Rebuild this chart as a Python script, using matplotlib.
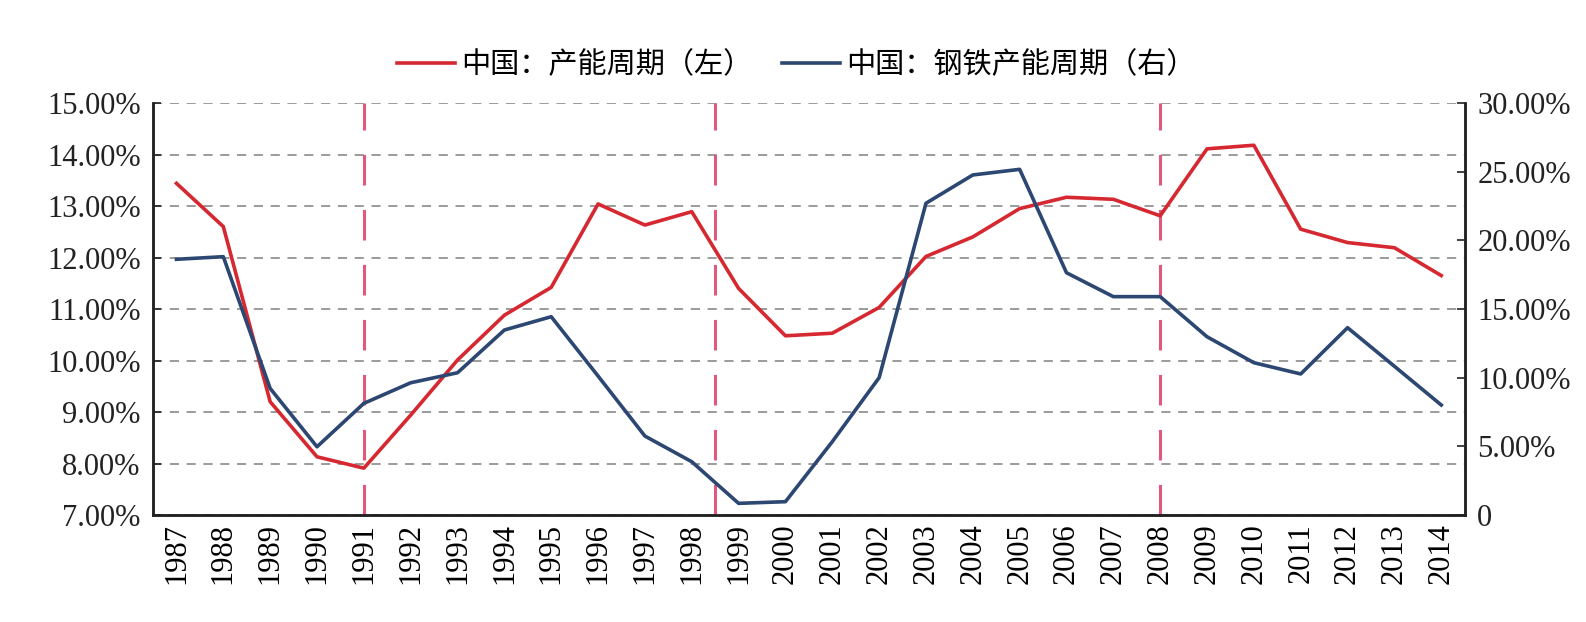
import matplotlib
matplotlib.use("Agg")
import matplotlib.pyplot as plt
from matplotlib.ticker import FuncFormatter, MultipleLocator

years = [str(y) for y in range(1987, 2015)]

# 中国：产能周期（左），%
capacity = [13.44, 12.60, 9.20, 8.13, 7.91, 8.94, 10.01, 10.88, 11.42, 13.04,
            12.63, 12.89, 11.40, 10.48, 10.53, 11.03, 12.02, 12.40, 12.95, 13.17,
            13.13, 12.81, 14.11, 14.18, 12.55, 12.29, 12.19, 11.65]

# 中国：钢铁产能周期（右），%
steel = [18.62, 18.81, 9.22, 4.97, 8.13, 9.63, 10.36, 13.47, 14.44, 10.12,
         5.75, 3.88, 0.85, 0.97, 5.34, 10.00, 22.70, 24.76, 25.17, 17.64,
         15.90, 15.90, 12.98, 11.09, 10.27, 13.64, 10.83, 8.01]

# 竖直参考线的位置（年份序号）
markers = [4, 11.5, 21]

red = "#d62830"
navy = "#2c4772"
pink = "#e0587e"
serif = ["Liberation Serif", "Noto Sans CJK SC"]

fig = plt.figure(figsize=(15.86, 6.22), dpi=100)
ax = fig.add_axes([0.0965, 0.172, 0.827, 0.6624])
ax2 = ax.twinx()

x = range(len(years))
ln1, = ax.plot(x, capacity, color=red, lw=2.6, label="中国：产能周期（左）", zorder=3)
ln2, = ax2.plot(x, steel, color=navy, lw=2.6, label="中国：钢铁产能周期（右）", zorder=3)

for m in markers:
    ax.axvline(m, color=pink, lw=2.2, dashes=(10, 8), zorder=2)

ax.set_xlim(-0.5, len(years) - 0.5)
ax.set_ylim(7, 15)
ax2.set_ylim(0, 30)
ax.yaxis.set_major_locator(MultipleLocator(1))
ax2.yaxis.set_major_locator(MultipleLocator(5))
ax.yaxis.set_major_formatter(FuncFormatter(lambda v, p: f"{v:.2f}%"))
ax2.yaxis.set_major_formatter(FuncFormatter(lambda v, p: "0" if v == 0 else f"{v:.2f}%"))

ax.grid(axis="y", color="#808080", lw=1.1, dashes=(6, 5))
ax.set_axisbelow(True)

ax.set_xticks(list(x))
ax.set_xticklabels(years, rotation=90, fontfamily=serif, fontsize=22)
ax.tick_params(axis="x", length=0, pad=6)
ax.tick_params(axis="y", direction="in", length=6, width=1.2, colors="#222222",
               labelsize=22, labelcolor="#222222", pad=9)
ax2.tick_params(axis="y", direction="in", length=6, width=1.2, colors="#222222",
                labelsize=22, labelcolor="#222222", pad=9)
for lab in ax.get_yticklabels() + ax2.get_yticklabels():
    lab.set_fontfamily(serif)

for a in (ax, ax2):
    a.spines["top"].set_visible(False)
    for s in ("left", "right", "bottom"):
        a.spines[s].set_color("#222222")
        a.spines[s].set_linewidth(1.8)

fig.legend(handles=[ln1, ln2], loc="center", bbox_to_anchor=(0.502, 0.895), ncol=2,
           frameon=False, prop={"family": serif, "size": 21}, handlelength=2.0,
           columnspacing=1.0, handletextpad=0.2)

fig.savefig("out.png", dpi=100)
